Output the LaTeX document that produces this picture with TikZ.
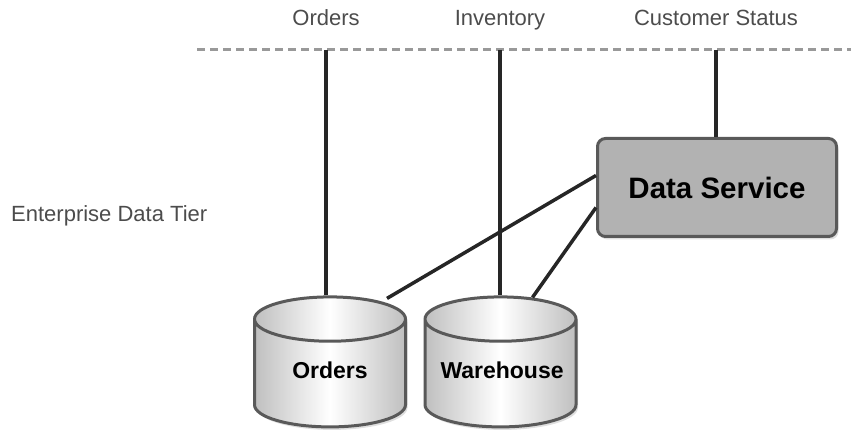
\documentclass[tikz,border=0pt]{standalone}
\usepackage{fontspec}
\setmainfont{Liberation Sans}
\usetikzlibrary{positioning, shapes.geometric, shadows, calc}

\begin{document}
\begin{tikzpicture}[
    x=1pt, y=1pt,
    font=\fontsize{22}{26}\selectfont,
    link/.style={line width=3.5pt, black!85},
    tier/.style={line width=3pt, dash pattern=on 8pt off 5pt, black!40},
    feed/.style={text=black!70, inner sep=0pt},
    service/.style={rectangle, draw=black!65, line width=3pt, fill=black!30, rounded corners=8pt, minimum width=239pt, minimum height=98pt, font=\fontsize{29.5}{34}\selectfont\bfseries, drop shadow={shadow xshift=2pt, shadow yshift=-3pt, opacity=0.25}},
    store/.style={cylinder, shape border rotate=90, shape aspect=0.35, draw=black!65, line width=3pt, left color=black!25, right color=black!25, middle color=white, minimum width=151pt, minimum height=130pt, text width=120pt, text height=15pt, text depth=12pt, align=center, font=\fontsize{23}{27}\selectfont\bfseries, drop shadow={shadow xshift=2pt, shadow yshift=-3pt, opacity=0.25}}
]
\useasboundingbox (0,0) rectangle (851,436);

% 1. Tier boundary and feeds (Top)
\coordinate (tierL) at (197,386);
\coordinate (tierR) at (851,386);
\node[feed, anchor=base] (ordersfeed) at (326,410) {Orders};
\node[feed, anchor=base] (invfeed) at (500,410) {Inventory};
\node[feed, anchor=base] (custfeed) at (716,410) {Customer Status};
\node[feed, anchor=west] (tierlabel) at (11,220) {Enterprise Data Tier};

% 2. Data Service (Right)
\node[service] (service) at (717,248.5) {Data Service};

% 3. Databases (Bottom)
\node[store] (ordersdb) at (330,59) {Orders};
\node[store] (whdb) at (500.5,59) {Warehouse};

% Paths
\draw[tier] (tierL) -- (tierR);
\draw[link] (ordersfeed |- tierL) -- (ordersfeed |- ordersdb.top);
\draw[link] (invfeed |- tierL) -- (invfeed |- whdb.top);
\draw[link] (custfeed |- tierL) -- (custfeed |- service.north);
\draw[link] ($(service.west)+(0,12)$) -- ($(ordersdb.top)+(57,-3)$);
\draw[link] ($(service.west)+(0,-20)$) -- ($(whdb.top)+(32,-2)$);

\end{tikzpicture}
\end{document}
